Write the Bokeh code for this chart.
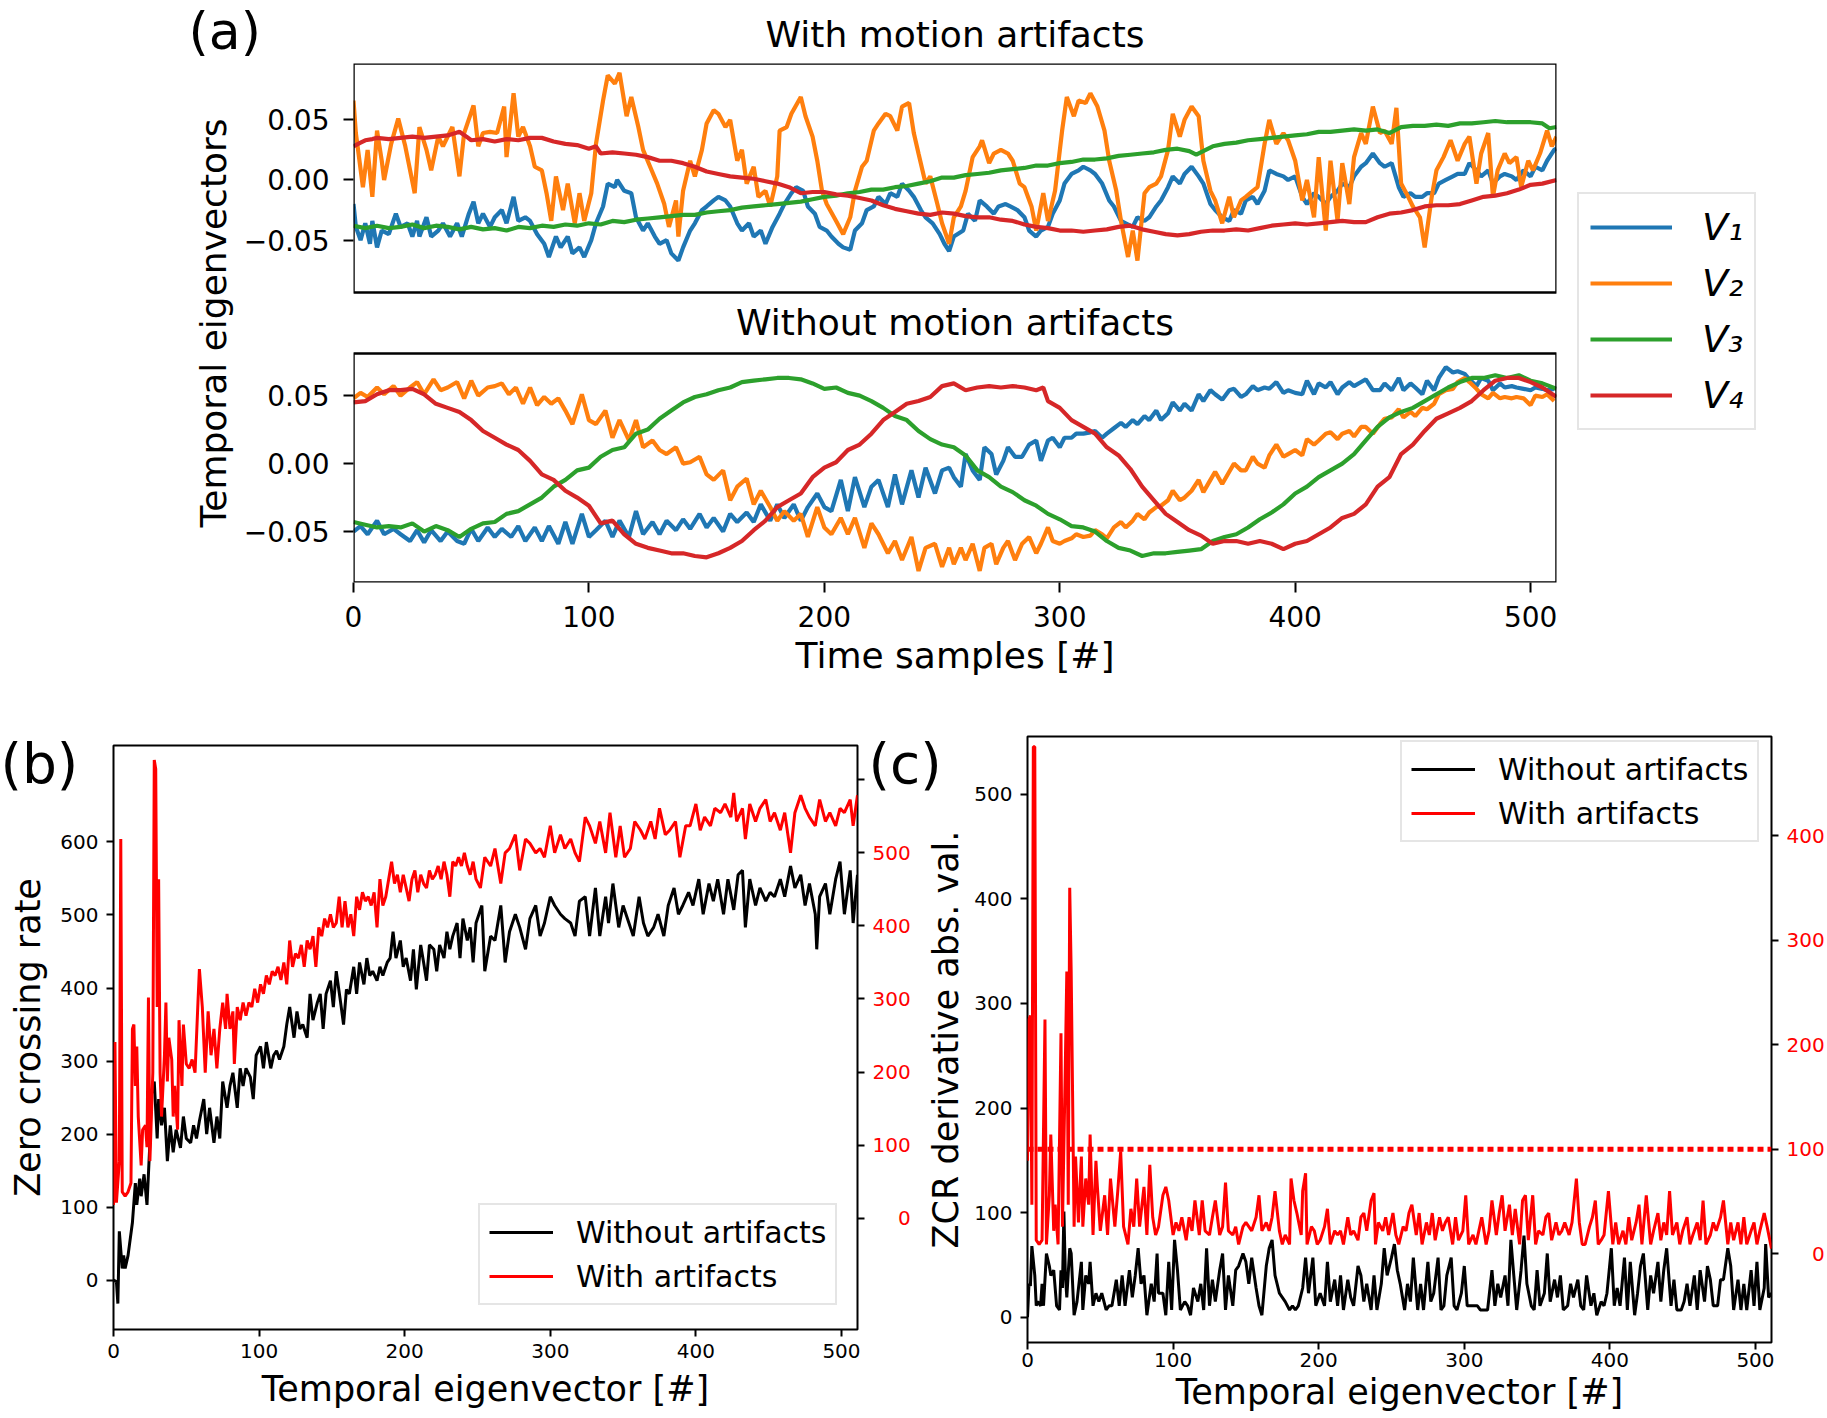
from bokeh.plotting import figure
from bokeh.models import (Range1d, LinearAxis, FixedTicker, CustomJSTickFormatter, Legend,
                          LegendItem, Label, BoxAnnotation, Span)
from bokeh.layouts import column, row
from bokeh.embed import file_html
from bokeh.resources import INLINE

FONT = "DejaVu Sans"
C1, C2, C3, C4 = "#1f77b4", "#ff7f0e", "#2ca02c", "#d62728"

# ---------------- data (a) : with motion artifacts ----------------
A_TOP_V1 = [(0,-0.020),(1,-0.039),(3,-0.050),(5,-0.036),(7,-0.053),(8,-0.034),(10,-0.056),(12,-0.042),(15,-0.045),(18,-0.028),(20,-0.039),(23,-0.036),(25,-0.047),(27,-0.034),(28,-0.047),(31,-0.031),(33,-0.047),(36,-0.042),(38,-0.036),(41,-0.047),(44,-0.036),(46,-0.047),(49,-0.028),(51,-0.018),(53,-0.036),(55,-0.028),(58,-0.039),(60,-0.031),(63,-0.025),(65,-0.036),(68,-0.014),(70,-0.034),(73,-0.031),(75,-0.034),(78,-0.045),(81,-0.053),(83,-0.064),(86,-0.047),(88,-0.056),(91,-0.047),(93,-0.061),(96,-0.056),(98,-0.064),(101,-0.050),(103,-0.036),(106,-0.022),(108,-0.003),(111,-0.006),(112,0.000),(115,-0.009),(118,-0.011),(120,-0.031),(123,-0.042),(125,-0.036),(128,-0.047),(130,-0.053),(133,-0.050),(135,-0.061),(138,-0.067),(140,-0.056),(143,-0.042),(145,-0.036),(148,-0.025),(150,-0.022),(153,-0.017),(155,-0.014),(158,-0.017),(160,-0.022),(163,-0.036),(165,-0.042),(168,-0.036),(170,-0.047),(173,-0.042),(175,-0.053),(178,-0.039),(181,-0.028),(183,-0.020),(186,-0.011),(188,-0.006),(191,-0.009),(193,-0.022),(196,-0.028),(198,-0.039),(201,-0.042),(203,-0.047),(206,-0.053),(208,-0.056),(211,-0.058),(213,-0.042),(216,-0.036),(218,-0.025),(221,-0.022),(223,-0.014),(226,-0.020),(228,-0.011),(231,-0.014),(233,-0.003),(236,-0.009),(238,-0.014),(241,-0.025),(243,-0.031),(246,-0.036),(249,-0.045),(251,-0.053),(253,-0.059),(255,-0.047),(259,-0.042),(261,-0.028),(264,-0.034),(266,-0.017),(269,-0.022),(272,-0.028),(274,-0.022),(277,-0.020),(279,-0.022),(282,-0.025),(285,-0.031),(287,-0.042),(290,-0.047),(292,-0.042),(295,-0.039),(297,-0.028),(300,-0.017),(302,-0.003),(305,0.005),(308,0.008),(310,0.011),(313,0.008),(315,0.005),(318,-0.003),(321,-0.017),(323,-0.022),(326,-0.034),(328,-0.036),(331,-0.039),(333,-0.031),(336,-0.034),(338,-0.031),(341,-0.022),(343,-0.017),(346,-0.006),(348,0.003),(351,-0.003),(353,0.005),(356,0.011),(359,0.003),(361,-0.003),(364,-0.020),(366,-0.025),(369,-0.031),(372,-0.034),(374,-0.025),(377,-0.028),(379,-0.017),(382,-0.014),(384,-0.020),(387,-0.009),(389,0.008),(392,0.005),(395,0.003),(397,0.000),(400,0.003),(403,-0.014),(405,-0.020),(408,-0.011),(410,-0.014),(413,-0.020),(415,-0.014),(418,-0.009),(420,-0.003),(423,-0.006),(425,0.003),(428,0.011),(430,0.014),(433,0.022),(436,0.014),(438,0.011),(441,0.014),(444,-0.006),(446,-0.014),(449,-0.011),(451,-0.014),(454,-0.014),(456,-0.011),(459,-0.011),(461,-0.003),(464,0.000),(467,0.003),(469,0.005),(472,0.005),(474,0.014),(477,0.008),(479,0.003),(482,0.008),(484,-0.003),(487,0.003),(489,0.005),(492,0.003),(494,0.000),(497,0.008),(500,0.003),(502,0.011),(505,0.008),(507,0.016),(510,0.025),(511,0.026)]
A_TOP_V2 = [(0,0.066),(1,0.039),(4,-0.006),(6,0.025),(8,-0.014),(10,0.041),(12,0.016),(13,0.000),(16,0.030),(19,0.051),(22,0.028),(26,-0.011),(28,0.044),(31,0.025),(33,0.008),(36,0.036),(38,0.028),(42,0.044),(45,0.003),(47,0.039),(51,0.062),(53,0.028),(55,0.039),(58,0.040),(61,0.039),(64,0.061),(65,0.019),(68,0.072),(70,0.036),(72,0.044),(75,0.028),(77,0.011),(80,0.008),(82,-0.011),(84,-0.034),(86,0.003),(89,-0.025),(91,-0.003),(94,-0.036),(96,-0.011),(98,-0.034),(101,-0.011),(103,0.030),(106,0.066),(108,0.087),(111,0.080),(113,0.089),(116,0.053),(118,0.069),(121,0.044),(123,0.025),(126,0.011),(129,-0.003),(132,-0.020),(134,-0.039),(137,-0.017),(138,-0.047),(140,-0.009),(143,0.016),(145,0.003),(148,0.025),(150,0.047),(153,0.058),(155,0.055),(158,0.044),(160,0.050),(163,0.016),(165,0.025),(167,-0.003),(170,0.011),(172,-0.014),(175,-0.009),(177,-0.022),(180,0.003),(181,0.041),(184,0.044),(186,0.055),(190,0.069),(192,0.053),(195,0.036),(197,0.016),(199,-0.009),(201,-0.020),(205,-0.034),(208,-0.045),(211,-0.031),(213,-0.009),(216,0.011),(218,0.016),(221,0.041),(223,0.047),(226,0.055),(228,0.053),(231,0.041),(233,0.061),(236,0.064),(238,0.039),(240,0.022),(243,-0.003),(245,0.003),(248,-0.020),(250,-0.036),(253,-0.053),(255,-0.031),(258,-0.022),(260,-0.009),(263,0.019),(266,0.028),(267,0.033),(270,0.014),(272,0.022),(275,0.025),(278,0.022),(280,0.016),(283,-0.003),(285,-0.006),(288,-0.022),(290,-0.042),(293,-0.011),(295,-0.034),(298,-0.009),(301,0.041),(303,0.069),(306,0.053),(308,0.066),(311,0.064),(313,0.072),(316,0.061),(319,0.041),(321,0.016),(324,-0.009),(326,-0.034),(329,-0.064),(331,-0.042),(333,-0.067),(336,-0.011),(338,-0.006),(341,-0.003),(343,0.003),(346,0.025),(348,0.055),(351,0.036),(353,0.050),(356,0.061),(359,0.053),(361,0.016),(364,-0.009),(366,-0.017),(369,-0.036),(372,-0.014),(374,-0.031),(377,-0.017),(379,-0.014),(382,-0.009),(384,-0.006),(387,0.030),(389,0.050),(392,0.030),(395,0.039),(397,0.033),(400,0.016),(403,-0.017),(405,0.000),(408,-0.031),(410,0.019),(413,-0.042),(415,0.016),(418,-0.034),(420,0.014),(423,-0.020),(425,0.019),(428,0.039),(430,0.030),(433,0.061),(436,0.039),(438,0.041),(441,0.030),(443,0.060),(445,-0.003),(448,-0.014),(450,-0.022),(453,-0.031),(455,-0.056),(458,-0.014),(460,0.008),(463,0.019),(466,0.033),(469,0.016),(472,0.030),(474,0.036),(477,-0.003),(479,0.022),(482,0.039),(484,-0.014),(486,0.008),(489,0.022),(491,0.014),(494,0.019),(496,-0.006),(499,0.016),(501,0.008),(504,0.022),(507,0.041),(509,0.028),(511,0.036)]
A_TOP_V3 = [(0,-0.038),(5,-0.040),(10,-0.038),(15,-0.040),(20,-0.039),(25,-0.037),(30,-0.040),(35,-0.038),(40,-0.039),(45,-0.041),(50,-0.039),(55,-0.041),(60,-0.040),(65,-0.042),(70,-0.039),(75,-0.040),(80,-0.038),(85,-0.039),(90,-0.037),(95,-0.038),(100,-0.036),(105,-0.037),(110,-0.034),(115,-0.035),(120,-0.033),(125,-0.032),(130,-0.031),(135,-0.030),(140,-0.029),(145,-0.029),(150,-0.027),(155,-0.026),(160,-0.025),(165,-0.023),(170,-0.022),(175,-0.021),(180,-0.020),(185,-0.019),(190,-0.018),(195,-0.016),(200,-0.014),(205,-0.013),(210,-0.011),(215,-0.010),(220,-0.008),(225,-0.008),(230,-0.006),(235,-0.005),(240,-0.003),(245,-0.001),(250,0.002),(255,0.002),(260,0.004),(265,0.005),(270,0.006),(275,0.008),(280,0.009),(285,0.010),(290,0.012),(295,0.012),(300,0.014),(305,0.015),(310,0.017),(315,0.017),(320,0.018),(325,0.020),(330,0.021),(335,0.022),(340,0.023),(345,0.025),(350,0.026),(355,0.024),(358,0.021),(362,0.025),(365,0.028),(370,0.030),(375,0.031),(380,0.033),(385,0.034),(390,0.035),(395,0.036),(400,0.037),(405,0.038),(410,0.040),(415,0.040),(420,0.041),(425,0.042),(430,0.041),(435,0.042),(440,0.039),(445,0.044),(450,0.045),(455,0.045),(460,0.046),(465,0.045),(470,0.047),(475,0.047),(480,0.048),(485,0.049),(490,0.048),(495,0.048),(500,0.048),(505,0.047),(508,0.043),(511,0.044)]
A_TOP_V4 = [(0,0.028),(3,0.031),(5,0.033),(8,0.034),(10,0.035),(15,0.034),(20,0.035),(25,0.036),(30,0.035),(35,0.036),(40,0.037),(45,0.040),(48,0.036),(50,0.033),(55,0.034),(60,0.032),(65,0.034),(70,0.033),(75,0.035),(80,0.035),(85,0.032),(90,0.030),(95,0.029),(100,0.026),(103,0.028),(105,0.022),(110,0.023),(115,0.022),(120,0.021),(125,0.019),(130,0.016),(135,0.016),(140,0.014),(145,0.011),(150,0.007),(155,0.005),(160,0.003),(165,0.002),(170,0.001),(175,-0.001),(180,-0.003),(185,-0.006),(190,-0.011),(195,-0.010),(200,-0.010),(205,-0.012),(210,-0.013),(215,-0.015),(220,-0.017),(225,-0.021),(230,-0.024),(235,-0.026),(240,-0.028),(245,-0.029),(250,-0.027),(255,-0.028),(260,-0.030),(265,-0.031),(270,-0.031),(275,-0.033),(280,-0.034),(285,-0.037),(290,-0.039),(295,-0.040),(300,-0.042),(305,-0.042),(310,-0.043),(315,-0.042),(320,-0.041),(325,-0.039),(330,-0.038),(335,-0.041),(340,-0.043),(345,-0.045),(350,-0.046),(355,-0.045),(360,-0.043),(365,-0.042),(370,-0.042),(375,-0.041),(380,-0.042),(385,-0.040),(390,-0.038),(395,-0.037),(400,-0.036),(405,-0.037),(410,-0.036),(415,-0.035),(420,-0.034),(425,-0.035),(430,-0.035),(435,-0.031),(440,-0.028),(445,-0.027),(450,-0.025),(455,-0.022),(460,-0.021),(465,-0.021),(470,-0.020),(475,-0.017),(480,-0.014),(485,-0.013),(490,-0.011),(495,-0.008),(500,-0.004),(505,-0.003),(511,0.000)]

# ---------------- data (a) : without motion artifacts ----------------
A_BOT_V1 = [(0,-0.050),(3,-0.046),(6,-0.052),(10,-0.042),(13,-0.052),(17,-0.048),(20,-0.052),(24,-0.057),(27,-0.049),(30,-0.058),(33,-0.049),(37,-0.057),(40,-0.050),(44,-0.057),(47,-0.059),(50,-0.048),(53,-0.057),(57,-0.047),(60,-0.054),(63,-0.048),(67,-0.054),(70,-0.046),(73,-0.057),(77,-0.047),(80,-0.057),(83,-0.046),(87,-0.059),(90,-0.043),(93,-0.059),(97,-0.037),(100,-0.054),(103,-0.049),(107,-0.042),(110,-0.054),(113,-0.042),(117,-0.054),(120,-0.035),(123,-0.052),(127,-0.043),(130,-0.052),(133,-0.042),(137,-0.049),(140,-0.041),(143,-0.048),(147,-0.037),(150,-0.047),(153,-0.040),(157,-0.050),(160,-0.037),(163,-0.043),(167,-0.036),(170,-0.043),(173,-0.030),(177,-0.042),(180,-0.030),(183,-0.040),(187,-0.030),(190,-0.042),(193,-0.032),(197,-0.022),(200,-0.032),(203,-0.035),(207,-0.012),(210,-0.035),(213,-0.010),(217,-0.032),(220,-0.017),(223,-0.012),(227,-0.032),(230,-0.008),(233,-0.030),(237,-0.005),(240,-0.025),(243,-0.003),(247,-0.022),(250,-0.005),(253,-0.003),(255,-0.010),(258,-0.017),(260,0.007),(263,-0.005),(266,-0.012),(268,0.012),(271,0.007),(273,-0.008),(276,0.002),(278,0.012),(281,0.005),(284,0.005),(287,0.014),(290,0.017),(292,0.002),(295,0.017),(297,0.019),(300,0.012),(302,0.019),(305,0.019),(307,0.022),(310,0.022),(313,0.023),(315,0.024),(318,0.019),(320,0.022),(323,0.026),(326,0.030),(328,0.027),(331,0.032),(333,0.029),(336,0.035),(338,0.032),(341,0.039),(343,0.032),(346,0.037),(348,0.045),(351,0.039),(353,0.044),(356,0.039),(359,0.051),(361,0.046),(364,0.054),(366,0.051),(369,0.047),(372,0.054),(374,0.055),(377,0.049),(379,0.051),(382,0.057),(384,0.054),(387,0.056),(389,0.055),(392,0.060),(395,0.052),(397,0.054),(400,0.052),(403,0.051),(405,0.061),(408,0.051),(410,0.059),(413,0.056),(415,0.060),(418,0.051),(420,0.056),(423,0.060),(425,0.057),(428,0.060),(430,0.062),(433,0.054),(436,0.054),(438,0.059),(441,0.054),(444,0.063),(446,0.054),(449,0.059),(451,0.056),(454,0.051),(456,0.061),(459,0.054),(461,0.063),(464,0.071),(467,0.067),(469,0.068),(472,0.066),(474,0.062),(477,0.057),(479,0.063),(482,0.061),(484,0.054),(487,0.059),(489,0.056),(492,0.057),(494,0.056),(497,0.055),(500,0.054),(502,0.056),(505,0.055),(507,0.054),(510,0.055)]
A_BOT_V2 = [(0,0.048),(3,0.052),(6,0.049),(10,0.056),(13,0.051),(17,0.057),(20,0.050),(24,0.056),(27,0.060),(30,0.051),(34,0.062),(37,0.054),(40,0.056),(44,0.060),(47,0.048),(50,0.061),(53,0.050),(57,0.056),(60,0.057),(63,0.059),(66,0.051),(69,0.056),(72,0.044),(75,0.056),(78,0.043),(81,0.049),(84,0.044),(87,0.048),(90,0.039),(93,0.029),(97,0.051),(100,0.032),(103,0.029),(107,0.039),(110,0.019),(113,0.032),(117,0.017),(120,0.032),(123,0.012),(127,0.017),(130,0.010),(133,0.007),(137,0.012),(140,0.000),(143,0.001),(147,0.005),(150,-0.008),(153,-0.012),(157,-0.005),(160,-0.027),(163,-0.017),(167,-0.011),(170,-0.030),(173,-0.020),(177,-0.032),(180,-0.042),(183,-0.035),(187,-0.042),(190,-0.037),(193,-0.054),(197,-0.032),(200,-0.047),(203,-0.052),(207,-0.040),(210,-0.052),(213,-0.040),(217,-0.062),(220,-0.044),(223,-0.052),(227,-0.066),(230,-0.057),(233,-0.071),(237,-0.054),(240,-0.079),(243,-0.062),(247,-0.059),(250,-0.076),(253,-0.062),(255,-0.074),(258,-0.062),(260,-0.071),(263,-0.059),(266,-0.079),(268,-0.062),(271,-0.059),(273,-0.074),(276,-0.062),(278,-0.057),(281,-0.071),(284,-0.059),(287,-0.054),(290,-0.066),(292,-0.059),(295,-0.047),(297,-0.057),(300,-0.059),(302,-0.057),(305,-0.055),(307,-0.052),(310,-0.054),(313,-0.053),(315,-0.049),(318,-0.052),(320,-0.055),(323,-0.047),(326,-0.043),(328,-0.047),(331,-0.042),(333,-0.037),(336,-0.041),(338,-0.036),(341,-0.032),(343,-0.031),(346,-0.027),(348,-0.020),(351,-0.027),(353,-0.025),(356,-0.020),(359,-0.012),(361,-0.021),(364,-0.012),(366,-0.006),(369,-0.015),(372,-0.006),(374,0.000),(377,-0.005),(379,-0.005),(382,0.005),(384,0.000),(387,-0.003),(389,0.006),(392,0.014),(395,0.005),(397,0.007),(400,0.010),(403,0.006),(405,0.018),(408,0.014),(410,0.017),(413,0.022),(415,0.023),(418,0.018),(420,0.022),(423,0.024),(425,0.020),(428,0.027),(430,0.027),(433,0.022),(436,0.029),(438,0.033),(441,0.034),(444,0.040),(446,0.034),(449,0.038),(451,0.035),(454,0.041),(456,0.040),(459,0.044),(461,0.051),(464,0.054),(467,0.055),(469,0.060),(472,0.063),(474,0.060),(477,0.055),(479,0.051),(482,0.048),(484,0.052),(487,0.048),(489,0.049),(492,0.048),(494,0.049),(497,0.048),(500,0.043),(502,0.050),(505,0.049),(507,0.051),(510,0.046)]
A_BOT_V3 = [(0,-0.043),(5,-0.045),(10,-0.047),(15,-0.046),(20,-0.047),(25,-0.044),(30,-0.050),(35,-0.046),(40,-0.049),(45,-0.054),(50,-0.048),(55,-0.044),(60,-0.043),(65,-0.037),(70,-0.035),(75,-0.030),(80,-0.025),(85,-0.017),(90,-0.012),(95,-0.005),(100,-0.003),(105,0.005),(110,0.010),(115,0.012),(120,0.022),(125,0.025),(130,0.033),(135,0.039),(140,0.045),(145,0.049),(150,0.051),(155,0.054),(160,0.056),(165,0.060),(170,0.061),(175,0.062),(180,0.063),(185,0.063),(190,0.062),(195,0.059),(200,0.055),(205,0.056),(210,0.052),(215,0.050),(220,0.046),(225,0.041),(230,0.035),(235,0.032),(240,0.024),(245,0.018),(250,0.014),(255,0.012),(260,0.006),(265,-0.005),(270,-0.010),(275,-0.017),(280,-0.021),(285,-0.027),(290,-0.031),(295,-0.037),(300,-0.041),(305,-0.046),(310,-0.047),(315,-0.050),(320,-0.057),(325,-0.062),(330,-0.064),(335,-0.068),(340,-0.066),(345,-0.066),(350,-0.065),(355,-0.064),(360,-0.063),(365,-0.057),(370,-0.054),(375,-0.052),(380,-0.047),(385,-0.041),(390,-0.036),(395,-0.030),(400,-0.022),(405,-0.017),(410,-0.010),(415,-0.005),(420,0.000),(425,0.007),(430,0.017),(435,0.027),(440,0.034),(445,0.038),(450,0.041),(455,0.046),(460,0.051),(465,0.056),(470,0.060),(475,0.063),(480,0.063),(485,0.065),(490,0.063),(495,0.065),(500,0.061),(505,0.059),(511,0.055)]
A_BOT_V4 = [(0,0.045),(5,0.046),(10,0.051),(15,0.054),(20,0.054),(25,0.055),(30,0.051),(35,0.044),(40,0.041),(45,0.038),(50,0.032),(55,0.024),(60,0.019),(65,0.014),(70,0.010),(75,0.002),(80,-0.008),(85,-0.012),(90,-0.020),(95,-0.025),(100,-0.031),(105,-0.044),(110,-0.042),(115,-0.052),(120,-0.059),(125,-0.062),(130,-0.064),(135,-0.066),(140,-0.066),(145,-0.068),(150,-0.069),(155,-0.066),(160,-0.062),(165,-0.057),(170,-0.049),(175,-0.042),(180,-0.032),(185,-0.027),(190,-0.022),(195,-0.010),(200,-0.003),(205,0.001),(210,0.010),(215,0.014),(220,0.022),(225,0.032),(230,0.038),(235,0.044),(240,0.046),(245,0.049),(250,0.057),(255,0.059),(260,0.054),(265,0.056),(270,0.057),(275,0.056),(280,0.057),(285,0.056),(290,0.054),(293,0.056),(295,0.046),(300,0.041),(305,0.032),(310,0.027),(315,0.022),(320,0.012),(325,0.006),(330,-0.004),(335,-0.017),(340,-0.027),(345,-0.037),(350,-0.043),(355,-0.049),(360,-0.053),(365,-0.059),(370,-0.057),(375,-0.057),(380,-0.059),(385,-0.057),(390,-0.059),(395,-0.063),(400,-0.059),(405,-0.057),(410,-0.052),(415,-0.047),(420,-0.040),(425,-0.037),(430,-0.030),(435,-0.017),(440,-0.010),(445,0.007),(450,0.014),(455,0.024),(460,0.033),(465,0.037),(470,0.041),(475,0.046),(480,0.054),(485,0.061),(490,0.063),(495,0.063),(500,0.060),(505,0.056),(511,0.049)]

# ---------------- data (b) : zero crossing rate ----------------
B_WITHOUT = [(0,0),(2,-2),(3,-32),(4,67),(6,16),(7,34),(8,16),(10,34),(11,49),(13,79),(15,133),(16,103),(18,139),(19,115),(21,145),(23,103),(25,188),(26,254),(28,272),(30,194),(31,248),(33,212),(35,236),(37,163),(39,212),(41,175),(43,206),(46,181),(48,224),(50,194),(53,188),(55,212),(57,194),(59,218),(62,248),(64,200),(66,236),(69,188),(71,224),(73,194),(75,272),(78,236),(80,266),(82,284),(85,236),(87,290),(89,266),(91,290),(94,278),(96,248),(98,308),(101,320),(103,290),(105,326),(108,290),(110,308),(112,314),(114,302),(117,320),(119,350),(121,374),(124,332),(126,368),(128,344),(130,350),(133,332),(135,392),(137,356),(140,380),(142,392),(144,344),(146,392),(149,410),(151,374),(153,423),(156,380),(158,350),(160,398),(162,392),(165,429),(167,392),(169,435),(172,405),(174,441),(176,417),(178,423),(181,410),(183,429),(185,417),(188,435),(190,441),(192,477),(194,441),(197,465),(199,429),(201,441),(204,410),(206,453),(208,398),(211,459),(213,435),(215,410),(217,459),(220,453),(222,423),(224,459),(227,441),(229,477),(231,453),(233,471),(236,489),(238,441),(240,495),(243,465),(245,483),(247,435),(249,489),(253,513),(255,423),(259,471),(262,465),(266,513),(269,435),(272,477),(276,501),(279,483),(283,453),(286,495),(290,513),(293,471),(296,489),(300,525),(303,513),(307,501),(310,495),(314,489),(317,471),(320,519),(324,525),(327,471),(331,537),(334,471),(338,525),(340,489),(343,543),(347,483),(350,513),(354,489),(357,471),(361,525),(364,489),(367,471),(371,483),(374,501),(378,471),(381,513),(385,537),(388,501),(391,513),(395,531),(398,513),(402,549),(405,501),(409,543),(412,519),(415,549),(419,501),(422,549),(426,507),(429,555),(432,561),(434,483),(437,549),(441,513),(444,537),(448,519),(451,531),(454,525),(458,549),(461,525),(465,567),(468,537),(472,555),(475,513),(478,543),(482,501),(483,453),(485,525),(489,543),(492,501),(496,549),(499,573),(502,501),(506,561),(508,489),(511,555)]
B_WITH = [(0,18),(1,241),(2,21),(4,78),(5,519),(6,36),(8,30),(10,36),(12,48),(13,259),(14,265),(15,181),(16,235),(17,139),(19,72),(20,121),(22,127),(23,97),(24,302),(25,78),(27,199),(28,627),(29,615),(30,289),(31,464),(32,199),(33,139),(35,223),(36,295),(37,187),(38,247),(40,217),(41,139),(42,181),(44,121),(45,271),(47,181),(48,265),(50,211),(52,205),(54,217),(56,199),(58,295),(59,341),(61,289),(63,199),(65,283),(67,223),(69,259),(71,205),(73,259),(75,295),(77,259),(78,307),(80,259),(82,283),(83,211),(85,289),(87,271),(89,295),(91,277),(93,295),(95,289),(97,314),(99,295),(101,320),(103,307),(105,332),(107,320),(109,338),(111,332),(113,344),(115,326),(117,350),(119,320),(121,380),(123,344),(125,362),(127,356),(129,374),(131,344),(133,380),(135,368),(137,386),(139,344),(141,398),(143,386),(145,410),(147,398),(149,416),(151,398),(153,404),(155,440),(157,398),(159,434),(161,398),(163,416),(165,386),(167,440),(169,422),(171,446),(173,434),(175,440),(177,428),(179,446),(181,398),(183,464),(185,428),(187,440),(189,464),(191,488),(193,458),(195,470),(197,446),(199,470),(201,452),(203,434),(205,464),(207,476),(209,446),(211,470),(213,458),(215,452),(217,476),(219,464),(221,470),(223,482),(225,464),(227,488),(229,470),(231,440),(233,488),(235,482),(237,494),(239,482),(241,500),(243,482),(245,470),(247,488),(249,464),(252,452),(255,494),(259,482),(262,506),(266,458),(269,500),(272,506),(276,525),(279,476),(283,519),(286,513),(290,500),(293,506),(296,494),(300,537),(303,500),(307,525),(310,506),(314,519),(317,500),(320,488),(324,549),(327,537),(331,513),(334,543),(338,500),(341,555),(345,494),(348,537),(351,494),(355,506),(358,543),(362,531),(365,519),(369,543),(372,519),(375,561),(379,525),(382,531),(386,543),(389,494),(393,537),(396,537),(400,567),(403,531),(406,549),(410,537),(413,561),(417,555),(420,567),(424,549),(426,582),(428,543),(432,561),(434,519),(437,567),(441,543),(444,561),(448,573),(451,543),(454,555),(458,531),(461,555),(465,500),(468,555),(472,579),(475,561),(478,549),(482,537),(485,573),(489,543),(492,555),(496,537),(499,561),(502,555),(506,573),(508,537),(511,579)]

# ---------------- data (c) : ZCR derivative abs. value ----------------
C_WITHOUT = [(0,0),(1,32),(2,30),(3,68),(5,40),(6,11),(7,15),(9,11),(10,32),(11,11),(13,61),(15,49),(16,40),(18,45),(20,11),(22,7),(23,45),(24,28),(25,101),(26,40),(27,19),(29,66),(30,61),(32,2),(34,15),(37,53),(38,7),(40,40),(42,32),(43,53),(45,11),(47,23),(49,15),(51,23),(54,7),(56,11),(58,11),(61,36),(63,11),(65,40),(67,11),(70,45),(72,19),(74,40),(76,66),(78,32),(80,40),(82,2),(85,32),(87,15),(89,61),(90,23),(93,23),(95,2),(97,53),(99,7),(101,74),(103,45),(105,7),(108,15),(110,11),(112,2),(114,28),(117,15),(119,32),(121,7),(123,66),(125,11),(127,36),(129,15),(132,45),(134,61),(136,7),(138,40),(141,11),(143,45),(145,49),(148,61),(150,53),(152,32),(154,57),(157,28),(159,11),(161,2),(164,49),(166,66),(168,74),(170,40),(173,23),(175,19),(177,15),(180,7),(182,11),(184,7),(186,11),(189,28),(191,57),(193,23),(196,57),(198,11),(201,23),(204,11),(206,53),(208,15),(211,36),(213,11),(215,40),(217,7),(220,36),(222,19),(224,11),(227,49),(229,40),(231,15),(233,32),(236,7),(238,40),(240,7),(243,32),(245,66),(247,40),(250,57),(252,70),(254,45),(256,32),(259,7),(261,32),(263,15),(265,57),(268,7),(270,32),(272,7),(275,53),(277,15),(279,23),(282,57),(284,7),(286,11),(288,40),(291,57),(293,11),(295,7),(298,23),(300,49),(302,11),(304,11),(307,11),(309,11),(311,7),(313,7),(316,7),(319,45),(321,11),(323,32),(325,19),(328,40),(330,11),(332,74),(334,40),(336,7),(339,45),(341,78),(343,32),(346,11),(348,7),(350,45),(352,11),(355,23),(357,61),(359,15),(362,36),(364,19),(366,40),(368,7),(371,11),(373,32),(375,19),(378,36),(380,11),(382,7),(384,40),(387,11),(389,23),(391,2),(394,15),(396,11),(398,23),(401,66),(403,11),(405,28),(407,11),(410,57),(412,7),(414,53),(417,2),(419,23),(421,49),(423,61),(426,7),(428,40),(430,23),(433,53),(435,15),(437,45),(439,66),(442,11),(444,36),(446,7),(449,7),(451,15),(453,32),(455,11),(458,40),(460,7),(462,45),(465,15),(467,49),(469,36),(471,11),(474,11),(476,36),(478,36),(481,66),(483,49),(485,7),(488,36),(490,7),(492,32),(494,7),(497,45),(499,11),(501,53),(503,7),(506,28),(507,70),(509,19),(511,23)]
C_WITH = [(0,89),(1,224),(2,228),(3,47),(4,485),(5,485),(6,13),(8,9),(10,13),(12,224),(13,9),(15,56),(16,114),(18,22),(19,47),(21,9),(23,211),(24,26),(26,182),(27,270),(28,47),(29,350),(30,270),(32,26),(33,93),(35,30),(37,93),(38,26),(40,72),(42,47),(43,114),(45,18),(47,89),(48,64),(50,22),(53,56),(55,18),(57,72),(60,26),(62,60),(64,98),(66,26),(69,9),(71,43),(73,26),(75,72),(77,26),(80,64),(82,18),(84,85),(86,35),(88,18),(90,26),(93,56),(95,64),(97,51),(100,18),(102,30),(104,22),(106,35),(109,13),(111,35),(113,22),(115,51),(118,18),(120,51),(122,22),(125,18),(127,35),(129,51),(132,18),(134,26),(136,68),(138,22),(141,18),(143,26),(145,9),(148,26),(150,30),(152,26),(154,22),(157,35),(159,56),(161,22),(164,30),(166,22),(168,35),(170,60),(173,22),(175,9),(177,18),(180,9),(181,72),(183,51),(185,39),(188,18),(189,60),(191,77),(192,9),(195,26),(197,22),(199,9),(201,13),(204,26),(206,43),(208,9),(211,22),(213,18),(215,22),(217,9),(220,35),(222,18),(224,22),(227,13),(229,35),(231,39),(233,22),(236,51),(238,58),(239,9),(241,30),(244,22),(246,35),(248,18),(251,39),(253,18),(255,9),(258,26),(260,22),(262,39),(264,47),(267,18),(269,39),(271,9),(274,30),(276,18),(278,39),(280,13),(283,35),(285,22),(287,30),(289,35),(292,9),(294,35),(296,13),(299,22),(301,56),(303,9),(306,18),(308,9),(310,22),(312,35),(315,9),(317,22),(319,51),(322,18),(324,39),(326,56),(328,22),(331,47),(333,18),(335,43),(338,9),(340,51),(342,56),(344,13),(347,56),(349,9),(351,22),(354,18),(356,35),(358,39),(360,13),(363,30),(365,18),(367,22),(369,30),(372,18),(374,30),(377,72),(379,30),(381,9),(383,9),(386,26),(388,35),(390,51),(392,9),(394,13),(396,18),(399,60),(402,9),(404,30),(406,9),(409,22),(411,9),(413,35),(415,13),(418,30),(420,47),(422,9),(425,56),(428,9),(430,22),(433,39),(435,13),(437,30),(439,18),(441,60),(443,18),(446,30),(448,9),(450,22),(453,35),(455,9),(457,18),(460,30),(462,13),(464,51),(466,9),(469,18),(471,30),(473,22),(476,35),(478,51),(481,9),(483,30),(485,13),(488,30),(490,9),(492,35),(494,9),(497,22),(499,30),(501,9),(503,22),(506,39),(508,26),(511,5)]
C_THRESHOLD = 100

# axis limits and ticks
X_LIM = (0, 511)
X_TICKS = [0, 100, 200, 300, 400, 500]
A_TOP_LIM = (-0.0935, 0.0968)
A_BOT_LIM = (-0.0875, 0.081)
A_TICKS = [-0.05, 0.0, 0.05]
A_TICK_LABELS = ["\u22120.05", "0.00", "0.05"]
B_LIM, B_RED_LIM = (-67.5, 732.0), (-152.5, 647.0)
B_TICKS = [0, 100, 200, 300, 400, 500, 600]
C_LIM, C_RED_LIM = (-24.1, 555.2), (-84.8, 494.7)
C_TICKS = [0, 100, 200, 300, 400, 500]
C_RED_TICKS = [0, 100, 200, 300, 400]
V_LABELS = ["V\u2081", "V\u2082", "V\u2083", "V\u2084"]
PANEL_TITLES = ["With motion artifacts", "Without motion artifacts"]
PANEL_LETTERS = ["(a)", "(b)", "(c)"]
LEGEND_BC = ["Without artifacts", "With artifacts"]

W, H = 1827, 1418
NAN = float("nan")


def xs(pairs):
    return [p[0] for p in pairs]


def ys(pairs):
    return [p[1] for p in pairs]


def style_axis(ax, tick_px, label_px, tick_len, lab_stand, axl_stand):
    ax.axis_line_color = None
    ax.major_tick_out = tick_len
    ax.major_tick_in = 0
    ax.major_tick_line_width = 2
    ax.major_tick_line_color = "black"
    ax.minor_tick_line_color = None
    ax.major_label_text_font = FONT
    ax.major_label_text_font_size = tick_px
    ax.major_label_text_color = "black"
    ax.major_label_standoff = lab_stand
    ax.axis_label_text_font = FONT
    ax.axis_label_text_font_size = label_px
    ax.axis_label_text_font_style = "normal"
    ax.axis_label_text_color = "black"
    ax.axis_label_standoff = axl_stand


def style_legend(lg, font_px, gw, gh, standoff, spacing, padding):
    lg.label_text_font = FONT
    lg.label_text_font_size = font_px
    lg.label_text_color = "black"
    lg.glyph_width = gw
    lg.glyph_height = gh
    lg.label_height = gh
    lg.label_standoff = standoff
    lg.spacing = spacing
    lg.padding = padding
    lg.margin = 0
    lg.border_line_color = "#cccccc"
    lg.border_line_width = 2
    lg.background_fill_alpha = 0.8


# ======================= panel (a) =======================
AL, AR, AT, ATB, ABT, AB = 353, 1556, 63, 292, 353, 582
AH = 700
k1 = (ATB - AT) / (A_TOP_LIM[1] - A_TOP_LIM[0])
main_start = A_TOP_LIM[0] - (AB - ATB) / k1
k2 = (AB - ABT) / (A_BOT_LIM[1] - A_BOT_LIM[0])
bot_end = A_BOT_LIM[1] + (ABT - AT) / k2

pA = figure(width=W, height=AH, x_range=Range1d(*X_LIM),
            y_range=Range1d(main_start, A_TOP_LIM[1]),
            output_backend="svg", toolbar_location=None,
            min_border_left=AL, min_border_right=W - AR,
            min_border_top=AT, min_border_bottom=AH - AB)
pA.extra_y_ranges = {"bot": Range1d(A_BOT_LIM[0], bot_end)}
pA.grid.visible = False
pA.outline_line_color = None

tick_vals = list(A_TICKS) + [main_start + (b - A_BOT_LIM[0]) * k2 / k1 for b in A_TICKS]
tick_labs = A_TICK_LABELS + A_TICK_LABELS
pA.yaxis.ticker = FixedTicker(ticks=tick_vals)
pA.yaxis.formatter = CustomJSTickFormatter(args=dict(tv=tick_vals, tl=tick_labs), code="""
let best = 0, bd = Infinity;
for (let i = 0; i < tv.length; i++) { const d = Math.abs(tv[i] - tick); if (d < bd) { bd = d; best = i; } }
return tl[best];
""")
pA.yaxis.axis_label = "Temporal eigenvectors"
style_axis(pA.yaxis[0], "28px", "36px", 10, 14, 7)
pA.xaxis.ticker = FixedTicker(ticks=X_TICKS)
pA.xaxis.axis_label = "Time samples [#]"
style_axis(pA.xaxis[0], "28px", "36px", 10, 13, 5)

LWA = 4.2
for data, col in zip([A_TOP_V1, A_TOP_V2, A_TOP_V3, A_TOP_V4], [C1, C2, C3, C4]):
    pA.line(xs(data), ys(data), line_color=col, line_width=LWA)
for data, col in zip([A_BOT_V1, A_BOT_V2, A_BOT_V3, A_BOT_V4], [C1, C2, C3, C4]):
    pA.line(xs(data), ys(data), line_color=col, line_width=LWA, y_range_name="bot")

pA.add_layout(BoxAnnotation(left=X_LIM[0], right=X_LIM[1], bottom=A_TOP_LIM[0], top=A_TOP_LIM[1],
                            fill_color=None, fill_alpha=0, line_color="black", line_alpha=1,
                            line_width=2.5, line_dash="solid"))
pA.add_layout(BoxAnnotation(left=X_LIM[0], right=X_LIM[1], bottom=A_BOT_LIM[0], top=A_BOT_LIM[1],
                            fill_color=None, fill_alpha=0, line_color="black", line_alpha=1,
                            line_width=2.5, line_dash="solid", y_range_name="bot"))

# ======================= panel (b) =======================
BW, RH = 915, 718
BL, BR, BT, BB = 113, 857, 745, 1329
pB = figure(width=BW, height=RH, x_range=Range1d(*X_LIM), y_range=Range1d(*B_LIM),
            output_backend="svg", toolbar_location=None,
            min_border_left=BL, min_border_right=BW - BR,
            min_border_top=BT - AH, min_border_bottom=H - BB)
pB.extra_y_ranges = {"red": Range1d(*B_RED_LIM)}
pB.grid.visible = False
pB.outline_line_color = "black"
pB.outline_line_width = 2
pB.outline_line_alpha = 1
pB.xaxis.ticker = FixedTicker(ticks=X_TICKS)
pB.xaxis.axis_label = "Temporal eigenvector [#]"
style_axis(pB.xaxis[0], "20px", "35px", 7, 7, 8)
pB.yaxis.ticker = FixedTicker(ticks=B_TICKS)
pB.yaxis.axis_label = "Zero crossing rate"
style_axis(pB.yaxis[0], "20px", "35px", 7, 8, 9)
axBr = LinearAxis(y_range_name="red", ticker=FixedTicker(ticks=B_TICKS),
                  major_label_overrides={0: "\u2007\u20070", 600: ""})
style_axis(axBr, "20px", "35px", 7, 8, 0)
axBr.major_label_text_color = "red"
pB.add_layout(axBr, "right")

rb1 = pB.line(xs(B_WITHOUT), ys(B_WITHOUT), line_color="black", line_width=3)
rb2 = pB.line(xs(B_WITH), ys(B_WITH), line_color="red", line_width=3, y_range_name="red")
legB = Legend(items=[LegendItem(label=LEGEND_BC[0], renderers=[rb1]),
                     LegendItem(label=LEGEND_BC[1], renderers=[rb2])],
              location=(478 - BL, BB - 1305))
style_legend(legB, "30px", 64, 36, 23, 8, 9)
pB.add_layout(legB)

# ======================= panel (c) =======================
CW = W - BW
CL, CR, CT, CB = 1027, 1771, 736, 1342
pC = figure(width=CW, height=RH, x_range=Range1d(*X_LIM), y_range=Range1d(*C_LIM),
            output_backend="svg", toolbar_location=None,
            min_border_left=CL - BW, min_border_right=W - CR,
            min_border_top=CT - AH, min_border_bottom=H - CB)
pC.extra_y_ranges = {"red": Range1d(*C_RED_LIM)}
pC.grid.visible = False
pC.outline_line_color = "black"
pC.outline_line_width = 2
pC.outline_line_alpha = 1
pC.xaxis.ticker = FixedTicker(ticks=X_TICKS)
pC.xaxis.axis_label = "Temporal eigenvector [#]"
style_axis(pC.xaxis[0], "20px", "35px", 7, 3, 2)
pC.yaxis.ticker = FixedTicker(ticks=C_TICKS)
pC.yaxis.axis_label = "ZCR derivative abs. val."
style_axis(pC.yaxis[0], "20px", "35px", 7, 8, 5)
axCr = LinearAxis(y_range_name="red", ticker=FixedTicker(ticks=C_RED_TICKS),
                  major_label_overrides={0: "\u2007\u20070"})
style_axis(axCr, "20px", "35px", 7, 8, 0)
axCr.major_label_text_color = "red"
pC.add_layout(axCr, "right")

rc1 = pC.line(xs(C_WITHOUT), ys(C_WITHOUT), line_color="black", line_width=3)
rc2 = pC.line(xs(C_WITH), ys(C_WITH), line_color="red", line_width=3, y_range_name="red")
pC.add_layout(Span(location=C_THRESHOLD, dimension="width", y_range_name="red",
                   line_color="red", line_width=5, line_dash="6 4"))
legC = Legend(items=[LegendItem(label=LEGEND_BC[0], renderers=[rc1]),
                     LegendItem(label=LEGEND_BC[1], renderers=[rc2])],
              location=(1400 - CL, CB - 842))
style_legend(legC, "30px", 64, 36, 23, 8, 9)
pC.add_layout(legC)

# ======================= transparent text overlay (page pixel coordinates) =======================
ov = figure(width=W, height=H, x_range=Range1d(0, W), y_range=Range1d(H, 0),
            output_backend="svg", toolbar_location=None,
            x_axis_location=None, y_axis_location=None,
            min_border=0, min_border_left=0, min_border_right=0,
            min_border_top=0, min_border_bottom=0,
            margin=(-H, 0, 0, 0))
ov.grid.visible = False
ov.outline_line_color = None
ov.background_fill_color = None
ov.border_fill_color = None


def page_text(x, baseline, txt, size_px, align="left"):
    ov.add_layout(Label(x=x, y=baseline - 0.35 * size_px, text=txt, text_font=FONT,
                        text_font_size=f"{size_px}px", text_align=align,
                        text_baseline="middle", text_color="black"))


page_text(188, 49, PANEL_LETTERS[0], 52)
page_text(0, 783, PANEL_LETTERS[1], 55)
page_text(868, 783, PANEL_LETTERS[2], 55)
page_text((AL + AR) / 2, 47, PANEL_TITLES[0], 36, "center")
page_text((AL + AR) / 2, 335, PANEL_TITLES[1], 36, "center")

# legend of panel (a): key glyphs (no visible data) with the colours/width of the V1..V4 lines
keys = [ov.line([NAN, NAN], [NAN, NAN], line_color=c, line_width=LWA) for c in [C1, C2, C3, C4]]
legA = Legend(items=[LegendItem(label=l, renderers=[r]) for l, r in zip(V_LABELS, keys)],
              location=(1577, H - 430))
style_legend(legA, "38px", 82, 40, 30, 12, 11)
legA.label_text_font_style = "italic"
ov.add_layout(legA)

layout = column(column(pA), row(column(pB), column(pC)), ov)
open("out.html", "w").write(file_html(layout, INLINE))
